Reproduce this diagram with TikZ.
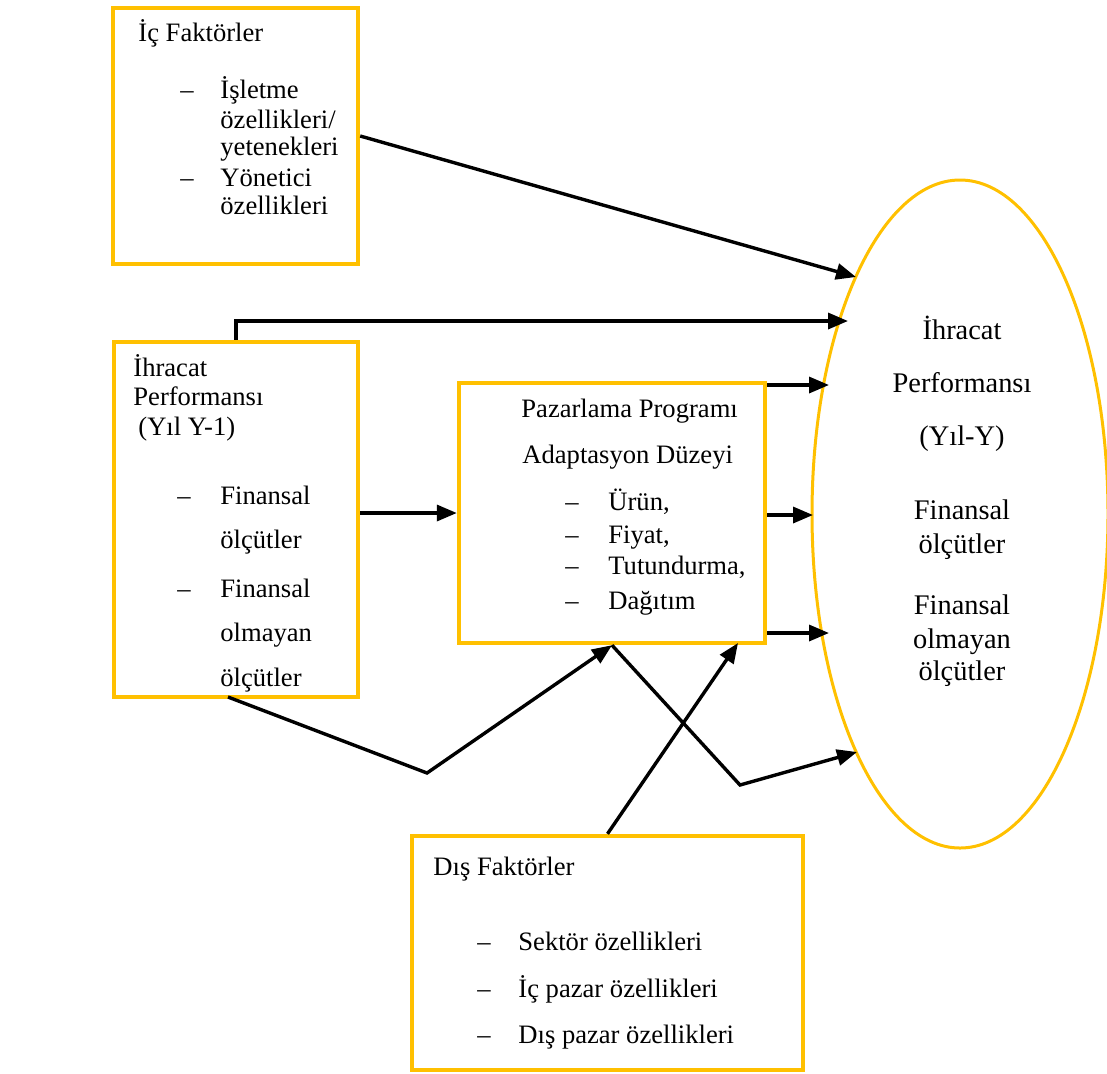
\documentclass[tikz,border=0pt]{standalone}
\usepackage{fontspec}
\setmainfont{Liberation Serif}
\usetikzlibrary{arrows.meta,shapes.geometric}
\definecolor{gold}{HTML}{FFC000}
\begin{document}
\begin{tikzpicture}[x=0.5pt,y=-0.5pt,
  frame/.style={draw=gold,line width=2.2pt,inner sep=0pt},
  txt/.style={anchor=base west,inner sep=0pt,font=\fontsize{13.3}{16}\selectfont},
  ctxt/.style={anchor=base,inner sep=0pt,font=\fontsize{14.2}{17}\selectfont},
  link/.style={line width=1.7pt,line join=miter},
  arr/.style={link,-{Triangle[length=10pt,width=8pt]}}]
\useasboundingbox (0,0) rectangle (1107,1073);

% frames
\node[frame,minimum width=122.5pt,minimum height=128pt] (ic) at (235.5,136) {};
\node[frame,minimum width=122pt,minimum height=177.5pt] (perf1) at (236,519.5) {};
\node[frame,minimum width=153pt,minimum height=130pt] (pz) at (612,513) {};
\node[frame,minimum width=195.5pt,minimum height=117pt] (dis) at (607.5,953) {};
\node[draw=gold,line width=1.5pt,ellipse,inner sep=0pt,
      minimum width=148pt,minimum height=334pt] (perf2) at (960,514) {};

% internal factors
\node[txt] (ic0) at (138,41) {İç Faktörler};
\node[txt] (ic1d) at (180,98) {–};
\node[txt] (ic1) at (220,98) {İşletme};
\node[txt] (ic2) at (220,128) {özellikleri/};
\node[txt] (ic3) at (220,155) {yetenekleri};
\node[txt] (ic4d) at (180,186) {–};
\node[txt] (ic4) at (220,186) {Yönetici};
\node[txt] (ic5) at (220,214) {özellikleri};

% export performance, previous year
\node[txt] (p0) at (133,376) {İhracat};
\node[txt] (p1) at (133,405) {Performansı};
\node[txt] (p2) at (138,435) {(Yıl Y-1)};
\node[txt] (p3d) at (177,504) {–};
\node[txt] (p3) at (220,504) {Finansal};
\node[txt] (p4) at (220,548) {ölçütler};
\node[txt] (p5d) at (177,597) {–};
\node[txt] (p5) at (220,597) {Finansal};
\node[txt] (p6) at (220,641) {olmayan};
\node[txt] (p7) at (220,686) {ölçütler};

% marketing programme
\node[txt] (m0) at (521,417) {Pazarlama Programı};
\node[txt] (m1) at (522,463) {Adaptasyon Düzeyi};
\node[txt] (m2d) at (565,510) {–};
\node[txt] (m2) at (608,510) {Ürün,};
\node[txt] (m3d) at (565,543) {–};
\node[txt] (m3) at (608,543) {Fiyat,};
\node[txt] (m4d) at (565,574) {–};
\node[txt] (m4) at (608,574) {Tutundurma,};
\node[txt] (m5d) at (565,609) {–};
\node[txt] (m5) at (608,609) {Dağıtım};

% external factors
\node[txt] (d0) at (433,875) {Dış Faktörler};
\node[txt] (d1d) at (477,950) {–};
\node[txt] (d1) at (518,950) {Sektör özellikleri};
\node[txt] (d2d) at (477,997) {–};
\node[txt] (d2) at (518,997) {İç pazar özellikleri};
\node[txt] (d3d) at (477,1043) {–};
\node[txt] (d3) at (518,1043) {Dış pazar özellikleri};

% export performance, current year
\node[ctxt] (q0) at (962,339) {İhracat};
\node[ctxt] (q1) at (962,392) {Performansı};
\node[ctxt] (q2) at (962,445) {(Yıl-Y)};
\node[ctxt] (q3) at (962,519) {Finansal};
\node[ctxt] (q4) at (962,553) {ölçütler};
\node[ctxt] (q5) at (962,614) {Finansal};
\node[ctxt] (q6) at (962,648) {olmayan};
\node[ctxt] (q7) at (962,680) {ölçütler};

% arrow end points
\coordinate (t1) at (856,277);
\coordinate (t2) at (848,321);
\coordinate (t3) at (829,385);
\coordinate (t4) at (813,515);
\coordinate (t5) at (829,633);
\coordinate (t6) at (857,752);
\coordinate (v1) at (427,773);
\coordinate (v2) at (740,785);
\coordinate (s1) at (228,697);
\coordinate (s7) at (738,643);

% connectors
\draw[arr] (ic.east) -- (t1);
\draw[arr] (perf1.north) |- (t2);
\draw[arr] (pz.east |- t3) -- (t3);
\draw[arr] (pz.east |- t4) -- (t4);
\draw[arr] (pz.east |- t5) -- (t5);
\draw[arr] (perf1.east |- pz.west) -- (pz.west);
\draw[arr] (s1) -- (v1) -- (pz.south);
\draw[arr] (pz.south) -- (v2) -- (t6);
\draw[arr] (dis.north) -- (s7);
\end{tikzpicture}
\end{document}
